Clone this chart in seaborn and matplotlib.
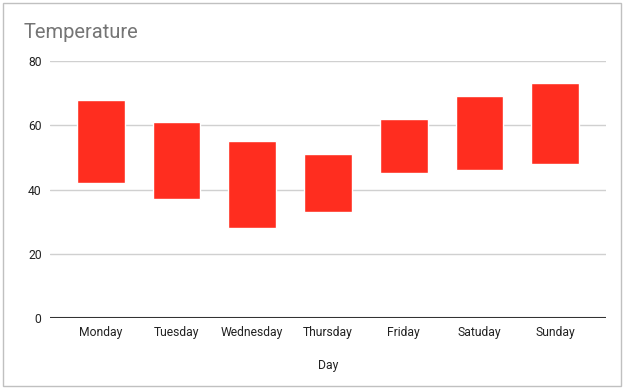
import pandas as pd
import matplotlib.pyplot as plt
import seaborn as sns
from matplotlib.patches import Rectangle

days = ["Monday", "Tuesday", "Wednesday", "Thursday", "Friday", "Satuday", "Sunday"]
low = [42, 37, 28, 33, 45, 46, 48]
high = [68, 61, 55, 51, 62, 69, 73]
y_ticks = [0, 20, 40, 60, 80]

df = pd.DataFrame({"Day": days, "low": low, "high": high})
df["range"] = df["high"] - df["low"]

sns.set_style("white")
plt.rcParams["font.family"] = ["Roboto", "DejaVu Sans"]

fig = plt.figure(figsize=(6.24, 3.88), dpi=100)
ax = fig.add_axes([0.080, 0.180, 0.891, 0.663])

# floating bars: low -> high
sns.barplot(data=df, x="Day", y="range", bottom=df["low"].values,
            color="#ff2d1f", saturation=1, width=0.63, ax=ax, zorder=3)

ax.set_ylim(0, 80)
ax.set_xlim(-0.67, 6.67)
ax.set_yticks(y_ticks)
ax.yaxis.grid(True, color="#d0d0d0", linewidth=1)
ax.axhline(0, color="#333333", linewidth=1.5, zorder=4)
for s in ax.spines.values():
    s.set_visible(False)
ax.tick_params(axis="both", length=0, labelsize=8.7, labelcolor="#222222")
ax.tick_params(axis="y", pad=6)
ax.tick_params(axis="x", pad=6)
ax.set_ylabel("")
ax.set_xlabel("Day", fontsize=8.7, color="#222222", labelpad=14)

fig.text(0.037, 0.915, "Temperature", fontsize=14.5, color="#757575", ha="left", va="center")

# chart frame
fig.patches.append(Rectangle((3 / 624, 2 / 388), 618 / 624, 383 / 388, transform=fig.transFigure,
                             fill=False, edgecolor="#c0c0c0", linewidth=1))

fig.savefig("out.png", dpi=100)
